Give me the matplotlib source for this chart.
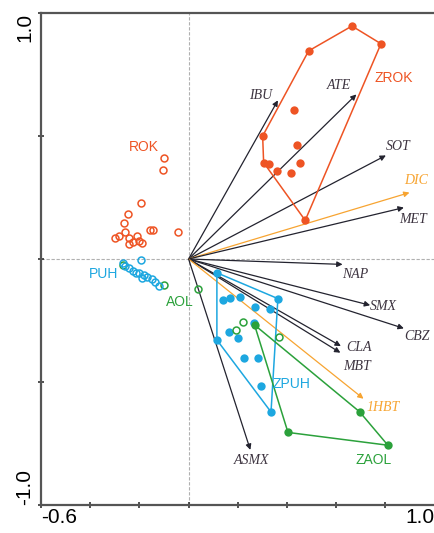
import numpy as np
import matplotlib
matplotlib.use("Agg")
import matplotlib.pyplot as plt

# ── species / variable arrows (RDA biplot) ─────────────────────────────
arrow_names = ["IBU", "ATE", "SOT", "DIC", "MET", "NAP", "SMX",
               "CBZ", "CLA", "MBT", "1HBT", "ASMX"]
arrow_x = [0.363, 0.682, 0.802, 0.898, 0.875, 0.626, 0.738,
           0.875, 0.619, 0.617, 0.711, 0.251]
arrow_y = [0.645, 0.669, 0.421, 0.270, 0.209, -0.022, -0.188,
           -0.282, -0.354, -0.381, -0.568, -0.776]
highlight = ["DIC", "1HBT"]

# label offsets (data units) from the arrow tip
label_off = {"IBU": (-0.072, 0.020), "ATE": (-0.072, 0.038),
             "SOT": (0.052, 0.036), "DIC": (0.026, 0.051),
             "MET": (0.037, -0.050), "NAP": (0.052, -0.043),
             "SMX": (0.055, -0.007), "CBZ": (0.053, -0.035),
             "CLA": (0.072, -0.006), "MBT": (0.067, -0.054),
             "1HBT": (0.078, -0.036), "ASMX": (0.006, -0.042)}

# ── sample scores ──────────────────────────────────────────────────────
rok_x = [-0.099, -0.106, -0.194, -0.248, -0.264, -0.260, -0.156, -0.146, -0.045,
         -0.298, -0.282, -0.244, -0.210, -0.244, -0.224, -0.203, -0.190]
rok_y = [0.412, 0.362, 0.226, 0.184, 0.148, 0.110, 0.118, 0.118, 0.108,
         0.084, 0.093, 0.084, 0.093, 0.060, 0.070, 0.073, 0.066]

puh_x = [-0.192, -0.268, -0.260, -0.244, -0.224, -0.203, -0.183, -0.169,
         -0.149, -0.135, -0.122, -0.190, -0.215]
puh_y = [-0.005, -0.015, -0.028, -0.035, -0.049, -0.056, -0.065, -0.073,
         -0.083, -0.092, -0.110, -0.078, -0.055]

aol_x = [-0.099, 0.038, 0.221, 0.192, 0.366, -0.265]
aol_y = [-0.107, -0.121, -0.255, -0.287, -0.317, -0.025]

zrok_x = [0.664, 0.782, 0.488, 0.427, 0.301, 0.440, 0.305, 0.325, 0.451,
          0.359, 0.416, 0.474]
zrok_y = [0.947, 0.875, 0.846, 0.604, 0.500, 0.463, 0.392, 0.385, 0.389,
          0.358, 0.348, 0.157]

zpuh_x = [0.115, 0.140, 0.167, 0.207, 0.363, 0.268, 0.332, 0.267, 0.163,
          0.115, 0.200, 0.224, 0.282, 0.294, 0.335]
zpuh_y = [-0.056, -0.167, -0.157, -0.153, -0.161, -0.194, -0.205, -0.261,
          -0.295, -0.329, -0.323, -0.404, -0.404, -0.516, -0.622]

zaol_x = [0.268, 0.695, 0.404, 0.810]
zaol_y = [-0.268, -0.621, -0.705, -0.757]

RED = "#EE5424"
BLUE = "#1DA7E0"
GREEN = "#2BA13B"
ORANGE = "#F7A431"
DARK = "#23232F"
TXT = "#3D3440"


def hull(xs, ys):
    pts = sorted(set(zip(xs, ys)))

    def cross(o, a, b):
        return (a[0] - o[0]) * (b[1] - o[1]) - (a[1] - o[1]) * (b[0] - o[0])

    lower, upper = [], []
    for p in pts:
        while len(lower) >= 2 and cross(lower[-2], lower[-1], p) <= 0:
            lower.pop()
        lower.append(p)
    for p in reversed(pts):
        while len(upper) >= 2 and cross(upper[-2], upper[-1], p) <= 0:
            upper.pop()
        upper.append(p)
    h = lower[:-1] + upper[:-1]
    h.append(h[0])
    return [p[0] for p in h], [p[1] for p in h]


fig = plt.figure(figsize=(4.34, 5.33), dpi=100)
ax = fig.add_axes([41 / 434, 28 / 533, 393.6 / 434, 492 / 533])
ax.set_xlim(-0.6, 1.0)
ax.set_ylim(-1.0, 1.0)

# zero lines
ax.axhline(0, color="#b0b0b0", lw=0.8, ls=(0, (3, 1.5)), zorder=0)
ax.axvline(0, color="#b0b0b0", lw=0.8, ls=(0, (3, 1.5)), zorder=0)

# arrows
for name, x, y in zip(arrow_names, arrow_x, arrow_y):
    c = ORANGE if name in highlight else DARK
    ax.annotate("", xy=(x, y), xytext=(0, 0),
                arrowprops=dict(arrowstyle="-|>", color=c, lw=0.9,
                                mutation_scale=8, shrinkA=0, shrinkB=0),
                zorder=2)
    dx, dy = label_off[name]
    ax.text(x + dx, y + dy, name, color=ORANGE if name in highlight else TXT,
            fontsize=10, family="Liberation Serif", style="italic",
            ha="center", va="center", zorder=5)

# hulls around treated samples
for xs, ys, c in [(zrok_x, zrok_y, RED), (zpuh_x, zpuh_y, BLUE),
                  (zaol_x, zaol_y, GREEN)]:
    hx, hy = hull(xs, ys)
    ax.plot(hx, hy, color=c, lw=1.1, zorder=3)
    ax.plot(xs, ys, "o", color=c, ms=6, mec="none", zorder=4)

# open samples
for xs, ys, c in [(rok_x, rok_y, RED), (aol_x, aol_y, GREEN),
                  (puh_x, puh_y, BLUE)]:
    ax.plot(xs, ys, "o", mfc="none", mec=c, ms=5, mew=1.1, zorder=4)

# group labels
groups = [("ROK", -0.183, 0.457, RED), ("ZROK", 0.833, 0.737, RED),
          ("PUH", -0.346, -0.062, BLUE), ("ZPUH", 0.420, -0.510, BLUE),
          ("AOL", -0.034, -0.173, GREEN), ("ZAOL", 0.752, -0.818, GREEN)]
for name, x, y, c in groups:
    ax.text(x, y, name, color=c, fontsize=10, family="Liberation Sans",
            ha="center", va="center", zorder=5)

# axes styling
for s in ["left", "bottom", "top"]:
    ax.spines[s].set_color("#555555")
    ax.spines[s].set_linewidth(1.6)
ax.spines["right"].set_visible(False)

ax.set_xticks([-0.6, -0.4, -0.2, 0.0, 0.2, 0.4, 0.6, 0.8, 1.0])
ax.set_xticklabels(["-0.6", "", "", "", "", "", "", "", "1.0"])
ax.set_yticks([-1.0, -0.5, 0.0, 0.5, 1.0])
ax.set_yticklabels(["-1.0", "", "", "", "1.0"], rotation=90)
ax.tick_params(direction="inout", length=4, width=1.2, color="#333333",
               labelsize=15, pad=3)
ax.tick_params(axis="x", pad=0.5)
for lab in ax.get_xticklabels():
    lab.set_family("Liberation Sans")
lbl = ax.get_xticklabels()
lbl[0].set_ha("left")
lbl[-1].set_ha("right")
ylbl = ax.get_yticklabels()
for lab in ylbl:
    lab.set_family("Liberation Sans")
ylbl[0].set_va("bottom")
ylbl[-1].set_va("top")

fig.savefig("out.png", dpi=100)
